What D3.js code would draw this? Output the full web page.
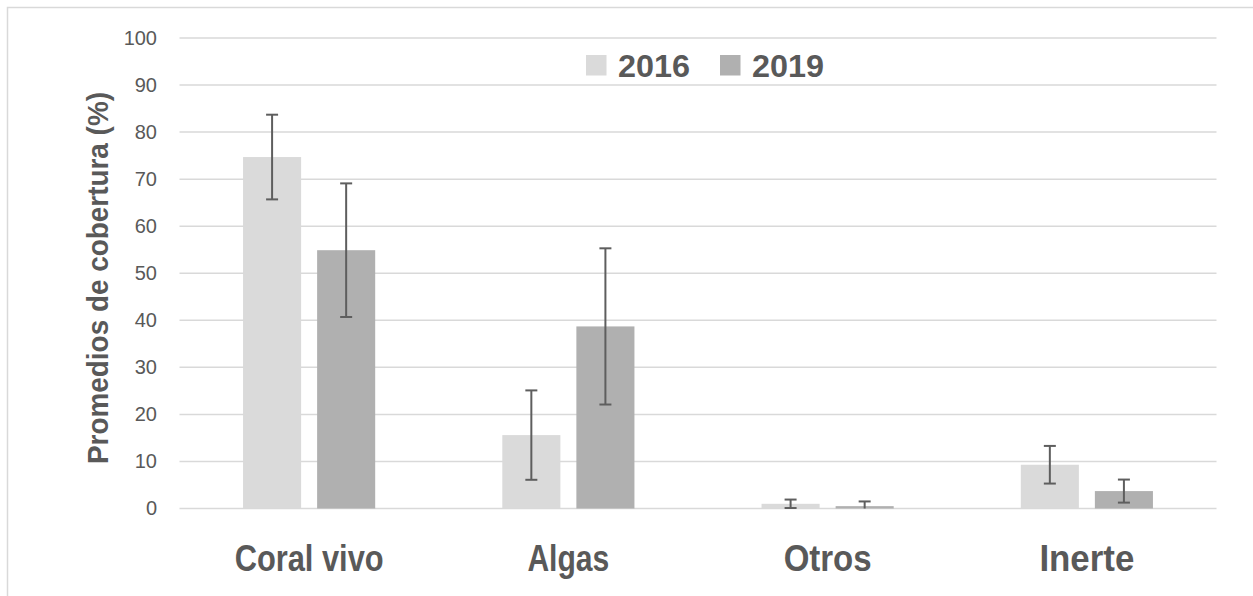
<!DOCTYPE html>
<html>
<head>
<meta charset="utf-8">
<script src="https://cdn.jsdelivr.net/npm/d3@7"></script>
<style>
html,body{margin:0;padding:0;background:#fff;overflow:hidden;}
svg{display:block;font-family:"Liberation Sans",Arial,sans-serif;}
</style>
</head>
<body>
<svg id="chart" width="1253" height="596"></svg>
<script>
const categories = ["Coral vivo", "Algas", "Otros", "Inerte"];
const seriesNames = ["2016", "2019"];
const values2016 = [74.7, 15.6, 1.0, 9.3];
const values2019 = [54.9, 38.7, 0.5, 3.7];
const err2016 = [9.0, 9.5, 0.9, 4.0];
const err2019 = [14.2, 16.6, 1.0, 2.45];
const yTicks = [0, 10, 20, 30, 40, 50, 60, 70, 80, 90, 100];
const yTitle = "Promedios de cobertura (%)";

const colors = {"2016": "#dadada", "2019": "#b0b0b0"};
const textColor = "#595959";
const gridColor = "#d9d9d9";

const svg = d3.select("#chart");

// chart border (top & left visible)
svg.append("path")
  .attr("d", "M7.5,600 L7.5,7.5 L1260,7.5")
  .attr("fill", "none").attr("stroke", gridColor).attr("stroke-width", 1.5);

const y = d3.scaleLinear().domain([0, 100]).range([508.5, 38]);
const x0 = d3.scaleBand().domain(categories).range([179.5, 1216.5]).padding(0);
const x1 = d3.scaleBand().domain(seriesNames).range([0, x0.bandwidth()])
  .paddingInner(0.216).paddingOuter(0.858);

// gridlines
svg.append("g").selectAll("line").data(yTicks).join("line")
  .attr("x1", 179.5).attr("x2", 1216.5)
  .attr("y1", d => y(d)).attr("y2", d => y(d))
  .attr("stroke", gridColor).attr("stroke-width", 1.5);

// y tick labels
const yAxis = d3.axisLeft(y).tickValues(yTicks).tickSize(0).tickPadding(0);
const ya = svg.append("g").attr("transform", "translate(157,0)").call(yAxis);
ya.select(".domain").remove();
ya.selectAll("text").attr("fill", textColor).attr("font-size", 20)
  .attr("font-family", "'Liberation Sans',Arial,sans-serif");

// data rows
const rows = categories.map((c, i) => ({
  cat: c,
  bars: [
    {s: "2016", v: values2016[i], e: err2016[i]},
    {s: "2019", v: values2019[i], e: err2019[i]}
  ]
}));

const groups = svg.append("g").selectAll("g").data(rows).join("g")
  .attr("transform", d => `translate(${x0(d.cat)},0)`);

groups.selectAll("rect").data(d => d.bars).join("rect")
  .attr("x", d => x1(d.s)).attr("width", x1.bandwidth())
  .attr("y", d => y(d.v)).attr("height", d => y(0) - y(d.v))
  .attr("fill", d => colors[d.s]);

// error bars
const eb = groups.selectAll("g.err").data(d => d.bars).join("g").attr("class", "err")
  .attr("transform", d => `translate(${x1(d.s) + x1.bandwidth() / 2},0)`);
const errColor = "#5e5e5e";
eb.append("line")
  .attr("y1", d => y(d.v + d.e)).attr("y2", d => y(Math.max(0, d.v - d.e)))
  .attr("stroke", errColor).attr("stroke-width", 2);
eb.append("line")
  .attr("x1", -6).attr("x2", 6)
  .attr("y1", d => y(d.v + d.e)).attr("y2", d => y(d.v + d.e))
  .attr("stroke", errColor).attr("stroke-width", 2);
eb.filter(d => d.v - d.e >= 0).append("line")
  .attr("x1", -6).attr("x2", 6)
  .attr("y1", d => y(d.v - d.e)).attr("y2", d => y(d.v - d.e))
  .attr("stroke", errColor).attr("stroke-width", 2);

// category labels
const catWidths = {"Coral vivo": 149, "Algas": 82, "Otros": 88, "Inerte": 95};
svg.append("g").selectAll("text").data(categories).join("text")
  .attr("x", d => x0(d) + x0.bandwidth() / 2).attr("y", 570.5)
  .attr("text-anchor", "middle").attr("font-weight", "bold").attr("font-size", 36)
  .attr("fill", textColor)
  .attr("textLength", d => catWidths[d]).attr("lengthAdjust", "spacingAndGlyphs")
  .text(d => d);

// y title
svg.append("text")
  .attr("transform", "translate(108,278) rotate(-90)")
  .attr("text-anchor", "middle").attr("font-weight", "bold").attr("font-size", 30)
  .attr("fill", textColor)
  .attr("textLength", 372).attr("lengthAdjust", "spacingAndGlyphs")
  .text(yTitle);

// legend
const legendPos = [{s: "2016", x: 586}, {s: "2019", x: 720}];
const lg = svg.append("g").selectAll("g").data(legendPos).join("g")
  .attr("transform", d => `translate(${d.x},55)`);
lg.append("rect").attr("width", 20.5).attr("height", 20.5).attr("fill", d => colors[d.s]);
lg.append("text").attr("x", 32).attr("y", 21.5)
  .attr("font-weight", "bold").attr("font-size", 32).attr("fill", textColor)
  .attr("textLength", 72).attr("lengthAdjust", "spacingAndGlyphs")
  .text(d => d.s);
</script>
</body>
</html>
